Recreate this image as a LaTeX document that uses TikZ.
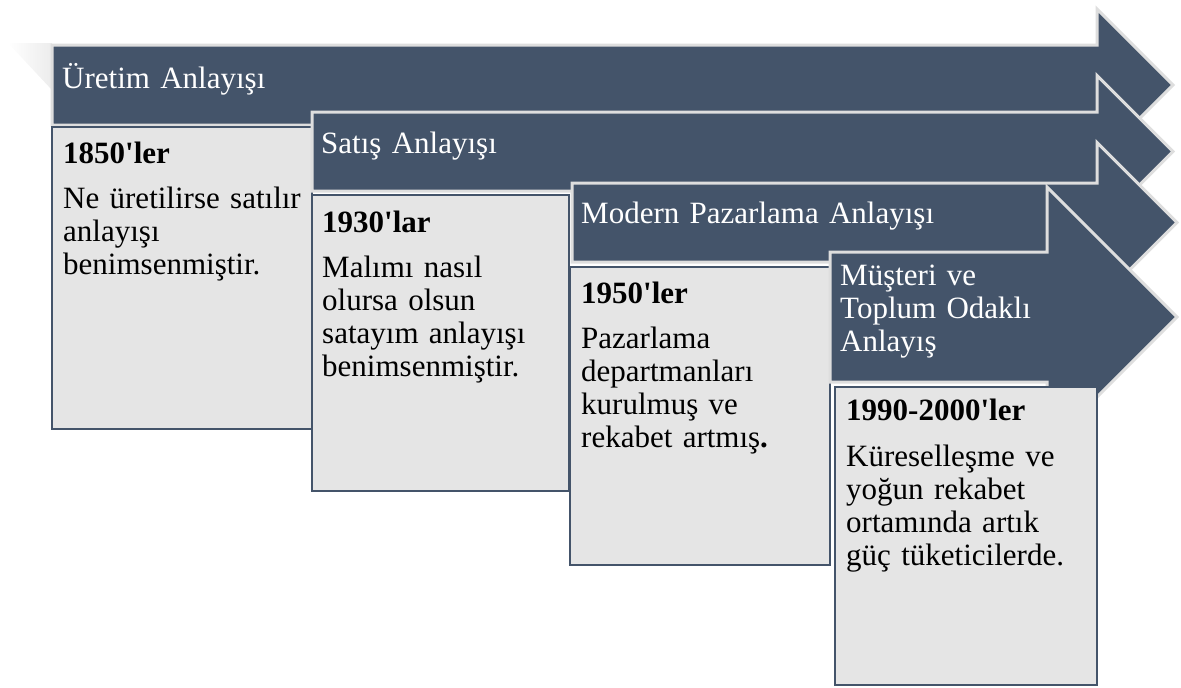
\documentclass[tikz,border=0pt]{standalone}
\usepackage{fontspec}
\newfontfamily\tmsfont{Liberation Serif}
\definecolor{slate}{HTML}{44546A}
\definecolor{panelfill}{HTML}{E5E5E5}
\definecolor{rim}{HTML}{DEDEDE}
\definecolor{ghost}{HTML}{ECECEC}
\begin{document}
\begin{tikzpicture}[x=1pt,y=-1pt,
  band/.style={fill=slate,draw=rim,line width=3pt,line join=miter},
  panel/.style={fill=panelfill,draw=slate,line width=2.2pt},
  txt/.style={inner sep=0pt,anchor=base west,text width=520pt,align=left,
    font=\tmsfont\fontsize{31}{33}\selectfont,
    execute at begin node={\setlength{\baselineskip}{33pt}}},
  title/.style={txt,text=white},
  yearhead/.style={txt,font=\tmsfont\bfseries\fontsize{31}{33}\selectfont},
]
\useasboundingbox (0,0) rectangle (1181,688);

% faint tail shadow behind the first band
\shade[left color=white,right color=ghost] (8,43) -- (52,43) -- (52,90) -- cycle;

% stage 1
\draw[band] (52,45) -- (1097,45) -- (1097,9) -- (1173,85) -- (1097,161) -- (1097,125) -- (52,125) -- cycle;
\node[title] (a1) at (62,88) {Üretim Anlayışı};
\draw[panel] (52,127) rectangle (312,429);
\node[yearhead] (y1) at (63,163) {1850'ler};
\node[txt] (t1) at (63,208) {Ne üretilirse satılır\\anlayışı\\benimsenmiştir.};

% stage 2
\draw[band] (312,112) -- (1097,112) -- (1097,75.5) -- (1173,151.5) -- (1097,227.5) -- (1097,191) -- (312,191) -- cycle;
\node[title] (a2) at (321,153) {Satış Anlayışı};
\draw[panel] (312,195) rectangle (569,491);
\node[yearhead] (y2) at (322,232) {1930'lar};
\node[txt] (t2) at (322,277) {Malımı nasıl\\olursa olsun\\satayım anlayışı\\benimsenmiştir.};

% stage 3
\draw[band] (572,183) -- (1097,183) -- (1097,142.5) -- (1177,222.5) -- (1097,302.5) -- (1097,262) -- (572,262) -- cycle;
\node[title] (a3) at (581,223) {Modern Pazarlama Anlayışı};
\draw[panel] (570,267) rectangle (830,565);
\node[yearhead] (y3) at (581,303) {1950'ler};
\node[txt] (t3) at (581,348) {Pazarlama\\departmanları\\kurulmuş ve\\rekabet artmış\textbf{.}};

% stage 4
\draw[band] (830,252) -- (1047,252) -- (1047,187) -- (1177,317) -- (1047,447) -- (1047,382) -- (830,382) -- cycle;
\node[title] (a4) at (840,285) {Müşteri ve\\Toplum Odaklı\\Anlayış};
\draw[panel] (835,387) rectangle (1097,685);
\node[yearhead] (y4) at (846,420) {1990-2000'ler};
\node[txt] (t4) at (846,466) {Küreselleşme ve\\yoğun rekabet\\ortamında artık\\güç tüketicilerde.};
\end{tikzpicture}
\end{document}
